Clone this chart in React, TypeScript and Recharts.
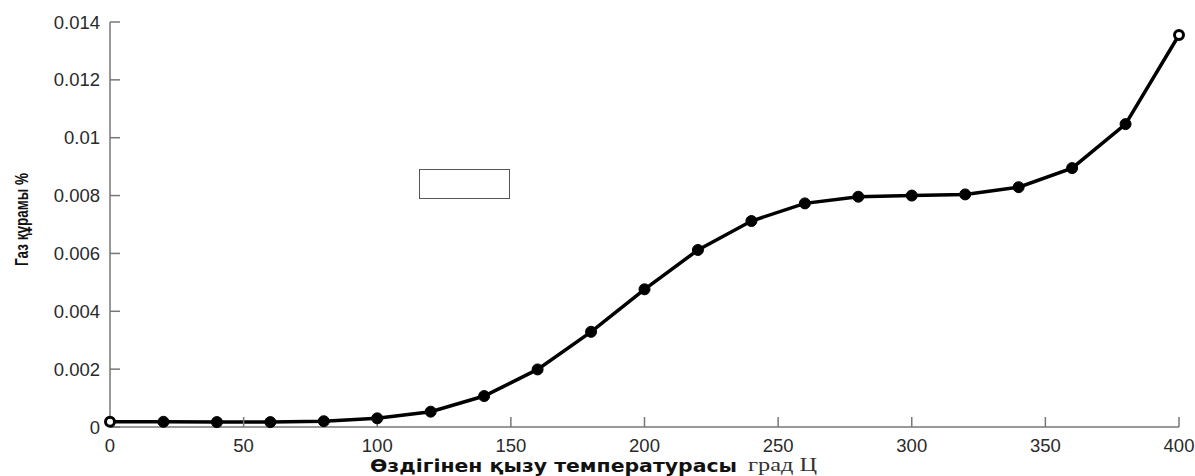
import React from 'react';
import { LineChart, Line, XAxis, YAxis, Legend, Label } from 'recharts';

// Self-heating temperature (°C) and gas content (%)
const temperatures = [0, 20, 40, 60, 80, 100, 120, 140, 160, 180, 200, 220, 240, 260, 280, 300, 320, 340, 360, 380, 400];
const gasContent = [
  0.00018, 0.00018, 0.00017, 0.00017, 0.0002, 0.0003, 0.00053, 0.00107, 0.00199, 0.00329,
  0.00476, 0.00612, 0.00712, 0.00773, 0.00796, 0.0080, 0.00804, 0.00829, 0.00895, 0.01047, 0.01355,
];

const xTicks = [0, 50, 100, 150, 200, 250, 300, 350, 400];
const yTicks = [0, 0.002, 0.004, 0.006, 0.008, 0.01, 0.012, 0.014];
const yTickLabels = ['0', '0.002', '0.004', '0.006', '0.008', '0.01', '0.012', '0.014'];

const xTitle = 'Өздігінен қызу температурасы';
const xUnit = 'град Ц';
const yTitle = 'Газ құрамы %';

const data = temperatures.map((t, i) => ({ t, v: gasContent[i] }));

const AXIS_COLOR = '#777';
const TEXT_COLOR = '#2a2a2a';
const tickFont = { fontFamily: 'Liberation Sans, Arial, sans-serif', fontSize: 18.5, fill: TEXT_COLOR };

const Marker = (props: any) => {
  const { cx, cy, index } = props;
  const hollow = index === 0 || index === temperatures.length - 1;
  if (hollow) {
    return <circle key={index} cx={cx} cy={cy} r={4.5} fill="#fff" stroke="#000" strokeWidth={3} />;
  }
  return <circle key={index} cx={cx} cy={cy} r={5.5} fill="#000" stroke="#000" strokeWidth={1} />;
};

const YTitle = (props: any) => {
  const vb = props.viewBox || {};
  const x = vb.x + 28;
  const y = vb.y + vb.height / 2 - 5;
  return (
    <text
      x={x}
      y={y}
      transform={`rotate(-90, ${x}, ${y})`}
      textAnchor="middle"
      fontFamily="Liberation Sans, Arial, sans-serif"
      fontWeight="bold"
      fontSize={18}
      fill="#111"
      textLength={93}
      lengthAdjust="spacingAndGlyphs"
    >
      {yTitle}
    </text>
  );
};

const XTitle = (props: any) => {
  const vb = props.viewBox || {};
  const baseline = vb.y + 45;
  const start = vb.x + 260;
  return (
    <g>
      <text
        x={start}
        y={baseline}
        fontFamily="DejaVu Sans, Verdana, sans-serif"
        fontWeight="bold"
        fontSize={17}
        fill="#111"
        textLength={367}
        lengthAdjust="spacingAndGlyphs"
      >
        {xTitle}
      </text>
      <text
        x={start + 378}
        y={baseline - 1}
        fontFamily="Liberation Serif, Times New Roman, serif"
        fontSize={18}
        fill="#333"
        textLength={69}
        lengthAdjust="spacingAndGlyphs"
      >
        {xUnit}
      </text>
    </g>
  );
};

const EmptyLegend = () => (
  <div
    style={{
      width: 89,
      height: 28,
      border: '1.5px solid #555',
      background: '#fff',
      boxSizing: 'content-box',
    }}
  />
);

export default function App() {
  return (
    <div style={{ position: 'absolute', left: 0, top: 0, width: 1195, height: 476, background: '#fff' }}>
      <LineChart
        width={1195}
        height={476}
        data={data}
        margin={{ top: 22, right: 16, left: 0, bottom: 0 }}
        style={{ background: '#fff' }}
      >
        <XAxis
          xAxisId="bottom"
          dataKey="t"
          type="number"
          domain={[0, 400]}
          ticks={xTicks}
          height={49}
          tickSize={-10}
          tickMargin={22}
          tick={tickFont}
          axisLine={{ stroke: AXIS_COLOR, strokeWidth: 1.5 }}
          tickLine={{ stroke: AXIS_COLOR, strokeWidth: 1.5 }}
          interval={0}
        >
          <Label content={<XTitle />} />
        </XAxis>
        <XAxis
          xAxisId="top"
          orientation="top"
          dataKey="t"
          type="number"
          domain={[0, 400]}
          ticks={xTicks}
          height={0}
          tickSize={-10}
          tick={false}
          axisLine={{ stroke: AXIS_COLOR, strokeWidth: 1.5 }}
          tickLine={{ stroke: AXIS_COLOR, strokeWidth: 1.5 }}
          interval={0}
        />
        <YAxis
          yAxisId="left"
          type="number"
          domain={[0, 0.014]}
          ticks={yTicks}
          width={110}
          tickSize={-10}
          tickMargin={20}
          tick={tickFont}
          tickFormatter={(v: number) => yTickLabels[yTicks.indexOf(v)] ?? String(v)}
          axisLine={{ stroke: AXIS_COLOR, strokeWidth: 1.5 }}
          tickLine={{ stroke: AXIS_COLOR, strokeWidth: 1.5 }}
          interval={0}
        >
          <Label content={<YTitle />} />
        </YAxis>
        <YAxis
          yAxisId="right"
          orientation="right"
          type="number"
          domain={[0, 0.014]}
          ticks={yTicks}
          width={0}
          tickSize={-10}
          tick={false}
          axisLine={{ stroke: AXIS_COLOR, strokeWidth: 1.5 }}
          tickLine={{ stroke: AXIS_COLOR, strokeWidth: 1.5 }}
          interval={0}
        />
        <Legend
          layout="horizontal"
          verticalAlign="middle"
          align="center"
          content={<EmptyLegend />}
          wrapperStyle={{ position: 'absolute', left: 419, top: 169, width: 'auto', height: 'auto' }}
        />
        <Line
          xAxisId="bottom"
          yAxisId="left"
          dataKey="v"
          type="linear"
          stroke="#000"
          strokeWidth={3.5}
          dot={<Marker />}
          activeDot={false}
          isAnimationActive={false}
          legendType="none"
        />
      </LineChart>
    </div>
  );
}
